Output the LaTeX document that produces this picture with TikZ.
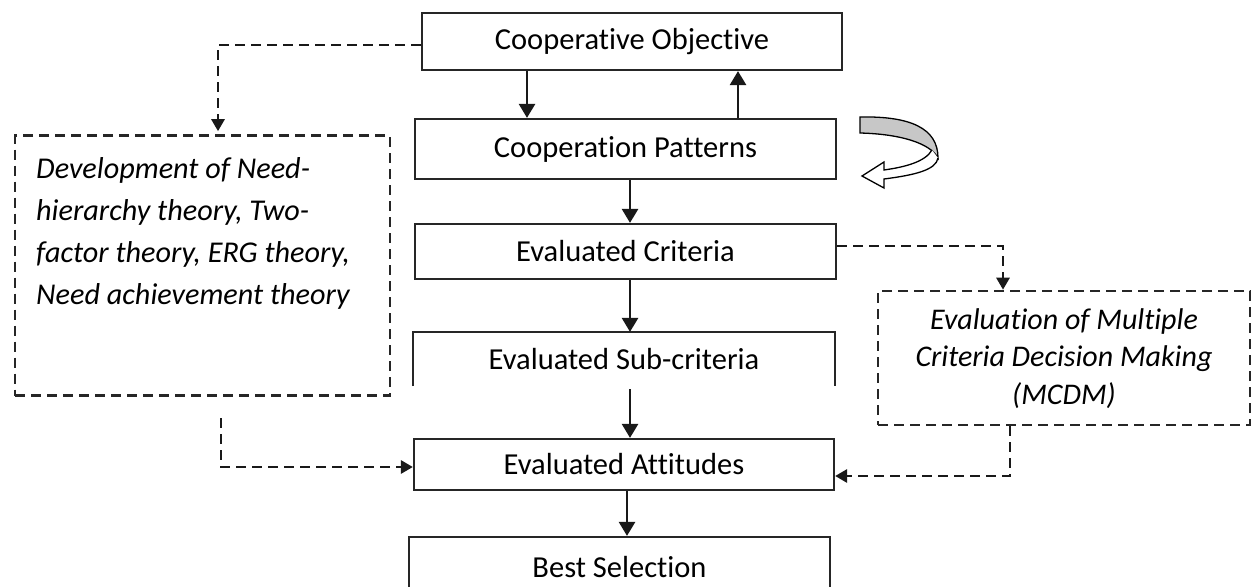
\documentclass[tikz,border=0pt]{standalone}
\usepackage{fontspec}
\setmainfont{Carlito}[Ligatures=NoCommon]
\usetikzlibrary{arrows.meta,calc}
\begin{document}
\begin{tikzpicture}[x=1pt,y=-1pt,
  box/.style={draw=black!85,line width=2.2pt,inner sep=0pt,font=\fontsize{30.5}{34}\selectfont},
  dbox/.style={draw=black!85,line width=2.6pt,dash pattern=on 10pt off 6pt,inner sep=0pt},
  itxt/.style={inner sep=0pt,font=\fontsize{30.2}{42}\selectfont\itshape},
  arr/.style={line width=2.6pt,draw=black!90,-{Triangle[length=14pt,width=16pt]}},
  darr/.style={line width=2.8pt,draw=black!90,dash pattern=on 10pt off 6pt,-{Triangle[length=12pt,width=13pt]}}]
\useasboundingbox (0,0) rectangle (1252,586);
% main boxes
\node[box,minimum width=420pt,minimum height=57pt] (co) at (632,41.5) {Cooperative Objective};
\node[box,minimum width=421pt,minimum height=60pt] (cp) at (625.5,149) {Cooperation Patterns};
\node[box,minimum width=421pt,minimum height=55pt] (ec) at (625.5,251.5) {Evaluated Criteria};
\node[box,draw=none,minimum width=420pt,minimum height=52pt] (es) at (624,359) {Evaluated Sub-criteria};
\draw[line width=2.2pt,draw=black!85] (es.south west) -- (es.north west) -- (es.north east) -- (es.south east);
\node[box,minimum width=420pt,minimum height=51pt] (ea) at (624,464.5) {Evaluated Attitudes};
\node[box,minimum width=421pt,minimum height=60pt] (bs) at (619.5,567) {Best Selection};
% side boxes
\node[dbox,minimum width=375pt,minimum height=260pt] (lbox) at (202.5,265.5) {};
\node[itxt,anchor=north west,align=left] (ltxt) at (36,157) {Development of Need-\\hierarchy theory, Two-\\factor theory, ERG theory,\\Need achievement theory};
\node[dbox,minimum width=372pt,minimum height=134pt] (rbox) at (1064,358) {};
\node[itxt,align=center,font=\fontsize{30}{37.5}\selectfont\itshape] (rtxt) at (1064,358.5) {Evaluation of Multiple\\Criteria Decision Making\\(MCDM)};
% x positions
\coordinate (x527) at (527,0);
\coordinate (x738) at (738,0);
\coordinate (x630) at (630,0);
\coordinate (x627) at (627,0);
\coordinate (x218) at (218,0);
\coordinate (x1003) at (1003,0);
\coordinate (x1010) at (1010,0);
\coordinate (ls) at (221,418);
% solid arrows
\draw[arr] (co.south -| x527) -- (cp.north -| x527);
\draw[arr] (cp.north -| x738) -- (co.south -| x738);
\draw[arr] (cp.south -| x630) -- (ec.north -| x630);
\draw[arr] (ec.south -| x630) -- (es.north -| x630);
\draw[arr] ([yshift=-3pt]es.south -| x630) -- (ea.north -| x630);
\draw[arr] (ea.south -| x627) -- (bs.north -| x627);
% dashed arrows
\draw[darr] ([yshift=-3.5pt]co.west) -| ([yshift=3pt]lbox.north -| x218);
\draw[darr] (ls) |- ([yshift=-2.5pt]ea.west);
\draw[darr] ([yshift=5.5pt]ec.east) -| (rbox.north -| x1003);
\draw[darr] (rbox.south -| x1010) |- ([yshift=-11.5pt]ea.east);
% curved return arrow
\draw[line width=1.3pt,fill=black!22] (860,117) .. controls (910,116) and (938,128) .. (938,158)
  .. controls (930,143) and (900,134) .. (860,133) -- cycle;
\draw[line width=1.3pt,fill=white] (938,158) .. controls (936,170) and (915,175) .. (884,179)
  -- (884,188) -- (862,176) -- (884,162) -- (884,170) .. controls (905,167) and (925,162) .. (932,150);
\end{tikzpicture}
\end{document}
